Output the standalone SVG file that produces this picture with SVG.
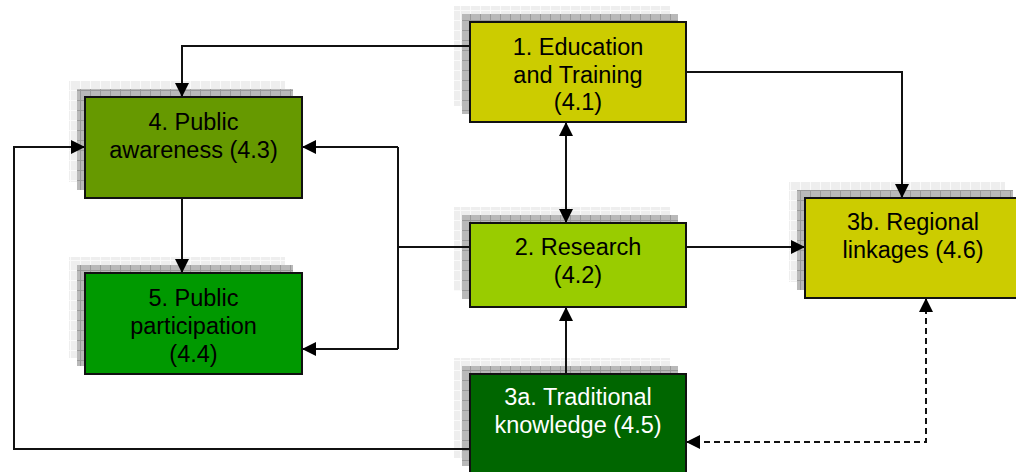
<svg xmlns="http://www.w3.org/2000/svg" width="1016" height="472" viewBox="0 0 1016 472">
  <defs>
    <!-- light outer drop layer: pale grey with white grid -->
    <pattern id="gridLight" width="10" height="10" patternUnits="userSpaceOnUse">
      <rect width="10" height="10" fill="#eeeeee"/>
      <path d="M0 0.5H10M0.5 0V10" stroke="#fafafa" stroke-width="1"/>
    </pattern>
    <!-- darker inner drop layer: mid grey with darker grid -->
    <pattern id="gridDark" width="10" height="10" patternUnits="userSpaceOnUse">
      <rect width="10" height="10" fill="#b9b9b9"/>
      <path d="M0 0.5H10M0.5 0V10" stroke="#9a9a9a" stroke-width="1"/>
    </pattern>
    <marker id="arrow" markerWidth="14" markerHeight="14" viewBox="0 0 14 14" refX="14" refY="7" orient="auto-start-reverse" markerUnits="userSpaceOnUse">
      <path d="M0 0L14 7L0 14Z" fill="#000"/>
    </marker>
  </defs>
  <style>
    .l1 { fill: url(#gridLight); }
    .l2 { fill: url(#gridDark); }
    .box { stroke: #111; stroke-width: 2; }
    .lbl { font-family: "Liberation Sans", Arial, sans-serif; font-size: 23.5px; text-anchor: middle; fill: #000; }
    .lbl.w { fill: #fff; }
    .conn { fill: none; stroke: #111; stroke-width: 2; }
    .dash { stroke-dasharray: 6 4; }
  </style>

  <rect width="1016" height="472" fill="#fff"/>

  <!-- drop layers behind every box -->
  <g id="shadows">
    <rect class="l1" x="454" y="6" width="216" height="100"/>
    <rect class="l2" x="462" y="14" width="216" height="100"/>
    <rect class="l1" x="69" y="81" width="216" height="101"/>
    <rect class="l2" x="77" y="89" width="216" height="101"/>
    <rect class="l1" x="69" y="257" width="216" height="101"/>
    <rect class="l2" x="77" y="265" width="216" height="101"/>
    <rect class="l1" x="454" y="207" width="216" height="84"/>
    <rect class="l2" x="462" y="215" width="216" height="84"/>
    <rect class="l1" x="454" y="358" width="216" height="100"/>
    <rect class="l2" x="462" y="366" width="216" height="100"/>
    <rect class="l1" x="789" y="182" width="216" height="100"/>
    <rect class="l2" x="797" y="190" width="216" height="100"/>
  </g>

  <g id="connectors">
    <path class="conn" d="M470 46H182V97" marker-end="url(#arrow)"/>
    <path class="conn" d="M686 72H902V198" marker-end="url(#arrow)"/>
    <path class="conn" d="M566 122V223" marker-start="url(#arrow)" marker-end="url(#arrow)"/>
    <path class="conn" d="M470 247H398"/>
    <path class="conn" d="M398 147V349"/>
    <path class="conn" d="M398 147H302" marker-end="url(#arrow)"/>
    <path class="conn" d="M398 349H302" marker-end="url(#arrow)"/>
    <path class="conn" d="M686 247H805" marker-end="url(#arrow)"/>
    <path class="conn" d="M182 198V273" marker-end="url(#arrow)"/>
    <path class="conn" d="M566 374V307" marker-end="url(#arrow)"/>
    <path class="conn" d="M470 449H14V147H85" marker-end="url(#arrow)"/>
    <path class="conn dash" d="M926 298V442H686" marker-start="url(#arrow)" marker-end="url(#arrow)"/>
  </g>

  <g id="node-education">
    <rect class="box" x="470" y="22" width="216" height="100" fill="#cccc00"/>
    <text class="lbl" x="578" y="55">1. Education</text>
    <text class="lbl" x="578" y="83">and Training</text>
    <text class="lbl" x="578" y="110">(4.1)</text>
  </g>

  <g id="node-awareness">
    <rect class="box" x="85" y="97" width="217" height="101" fill="#669900"/>
    <text class="lbl" x="193.5" y="130">4. Public</text>
    <text class="lbl" x="193.5" y="158">awareness (4.3)</text>
  </g>

  <g id="node-participation">
    <rect class="box" x="85" y="273" width="217" height="101" fill="#009900"/>
    <text class="lbl" x="193.5" y="306">5. Public</text>
    <text class="lbl" x="193.5" y="334">participation</text>
    <text class="lbl" x="193.5" y="362">(4.4)</text>
  </g>

  <g id="node-research">
    <rect class="box" x="470" y="223" width="216" height="84" fill="#99cc00"/>
    <text class="lbl" x="578" y="255">2. Research</text>
    <text class="lbl" x="578" y="283">(4.2)</text>
  </g>

  <g id="node-traditional">
    <rect class="box" x="470" y="374" width="216" height="102" fill="#006600"/>
    <text class="lbl w" x="578" y="405">3a. Traditional</text>
    <text class="lbl w" x="578" y="433">knowledge (4.5)</text>
  </g>

  <g id="node-regional">
    <rect class="box" x="805" y="198" width="216" height="100" fill="#cccc00"/>
    <text class="lbl" x="913" y="230">3b. Regional</text>
    <text class="lbl" x="913" y="258">linkages (4.6)</text>
  </g>
</svg>
